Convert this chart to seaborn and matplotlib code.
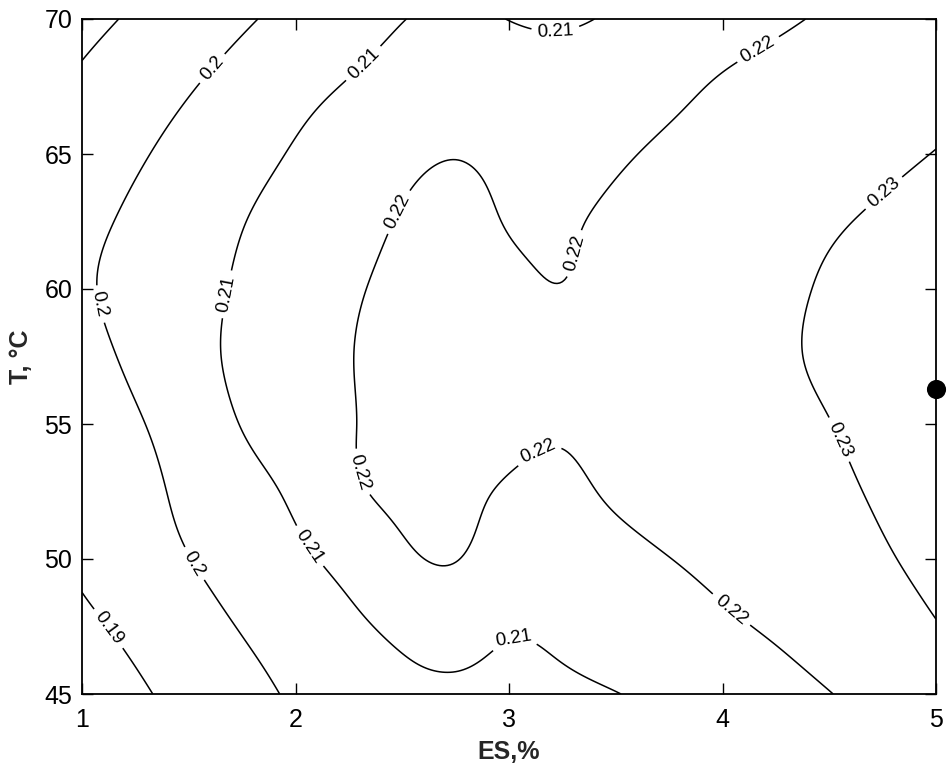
import numpy as np
import matplotlib
matplotlib.use("Agg")
import matplotlib.pyplot as plt
import seaborn as sns

# Grid of the response surface: ES (%) along x, T (degC) along y
es = [1.0, 1.25, 1.5, 1.75, 2.0, 2.25, 2.5, 2.75, 3.0, 3.25, 3.5, 3.75, 4.0, 4.25, 4.5, 4.75, 5.0]
temp = [45.0, 47.5, 50.0, 52.5, 55.0, 57.5, 60.0, 62.5, 65.0, 67.5, 70.0]

# Response values, one row per temperature
z_t45_0 = [0.1844, 0.1886, 0.1929, 0.1971, 0.2012, 0.2050, 0.2078, 0.2085, 0.2080, 0.2084, 0.2098, 0.2122, 0.2148, 0.2173, 0.2198, 0.2228, 0.2262]
z_t47_5 = [0.1880, 0.1922, 0.1963, 0.2005, 0.2043, 0.2082, 0.2120, 0.2137, 0.2108, 0.2122, 0.2147, 0.2166, 0.2188, 0.2210, 0.2236, 0.2266, 0.2297]
z_t50_0 = [0.1915, 0.1957, 0.1998, 0.2040, 0.2081, 0.2130, 0.2185, 0.2202, 0.2163, 0.2168, 0.2182, 0.2199, 0.2220, 0.2243, 0.2266, 0.2293, 0.2318]
z_t52_5 = [0.1925, 0.1968, 0.2023, 0.2069, 0.2117, 0.2185, 0.2213, 0.2214, 0.2194, 0.2191, 0.2207, 0.2228, 0.2248, 0.2267, 0.2287, 0.2308, 0.2330]
z_t55_0 = [0.1945, 0.1990, 0.2048, 0.2103, 0.2150, 0.2195, 0.2220, 0.2230, 0.2214, 0.2205, 0.2220, 0.2242, 0.2262, 0.2282, 0.2299, 0.2317, 0.2338]
z_t57_5 = [0.1968, 0.2018, 0.2071, 0.2117, 0.2157, 0.2197, 0.2222, 0.2233, 0.2220, 0.2213, 0.2227, 0.2248, 0.2270, 0.2291, 0.2308, 0.2324, 0.2341]
z_t60_0 = [0.1988, 0.2030, 0.2070, 0.2111, 0.2150, 0.2189, 0.2218, 0.2228, 0.2212, 0.2201, 0.2218, 0.2240, 0.2263, 0.2286, 0.2306, 0.2322, 0.2339]
z_t62_5 = [0.1976, 0.2016, 0.2056, 0.2097, 0.2134, 0.2171, 0.2205, 0.2218, 0.2197, 0.2194, 0.2211, 0.2231, 0.2251, 0.2272, 0.2292, 0.2310, 0.2328]
z_t65_0 = [0.1948, 0.1989, 0.2029, 0.2069, 0.2108, 0.2150, 0.2180, 0.2197, 0.2180, 0.2172, 0.2190, 0.2213, 0.2230, 0.2247, 0.2265, 0.2284, 0.2302]
z_t67_5 = [0.1915, 0.1955, 0.1994, 0.2033, 0.2071, 0.2106, 0.2135, 0.2148, 0.2140, 0.2136, 0.2152, 0.2180, 0.2208, 0.2228, 0.2246, 0.2262, 0.2278]
z_t70_0 = [0.1874, 0.1912, 0.1951, 0.1989, 0.2026, 0.2063, 0.2098, 0.2111, 0.2099, 0.2092, 0.2109, 0.2135, 0.2160, 0.2186, 0.2211, 0.2236, 0.2260]

levels = [0.19, 0.20, 0.21, 0.22, 0.23]

# Optimum point marked on the right edge
opt_es = [5.0]
opt_t = [56.3]

# Where the isoline values are written
label_pos = [
    (1.12, 47.4),
    (1.62, 68.1), (1.06, 59.4), (1.52, 49.8),
    (2.30, 68.5), (1.68, 59.8), (2.07, 50.5), (3.03, 46.8), (3.22, 69.2),
    (4.18, 68.7), (3.26, 61.4), (2.47, 62.9), (2.35, 53.3), (3.12, 54.2), (4.06, 48.3),
    (4.74, 63.7), (4.54, 54.4),
]


def natural_spline(xk, yk, xq):
    """Natural cubic spline through (xk, yk), evaluated at xq."""
    xk = np.asarray(xk, float)
    yk = np.asarray(yk, float)
    n = len(xk)
    h = np.diff(xk)
    A = np.zeros((n, n))
    r = np.zeros(n)
    A[0, 0] = A[-1, -1] = 1.0
    for i in range(1, n - 1):
        A[i, i - 1] = h[i - 1]
        A[i, i] = 2.0 * (h[i - 1] + h[i])
        A[i, i + 1] = h[i]
        r[i] = 3.0 * ((yk[i + 1] - yk[i]) / h[i] - (yk[i] - yk[i - 1]) / h[i - 1])
    c = np.linalg.solve(A, r)
    b = (yk[1:] - yk[:-1]) / h - h * (2.0 * c[:-1] + c[1:]) / 3.0
    d = (c[1:] - c[:-1]) / (3.0 * h)
    idx = np.clip(np.searchsorted(xk, xq) - 1, 0, n - 2)
    dx = xq - xk[idx]
    return yk[idx] + b[idx] * dx + c[idx] * dx ** 2 + d[idx] * dx ** 3


z = np.array([z_t45_0, z_t47_5, z_t50_0, z_t52_5, z_t55_0, z_t57_5,
              z_t60_0, z_t62_5, z_t65_0, z_t67_5, z_t70_0])

xf = np.linspace(es[0], es[-1], 321)
yf = np.linspace(temp[0], temp[-1], 301)
zx = np.array([natural_spline(es, row, xf) for row in z])
zf = np.array([natural_spline(temp, zx[:, j], yf) for j in range(len(xf))]).T
XF, YF = np.meshgrid(xf, yf)

sns.set_style("ticks")
plt.rcParams["font.family"] = ["Liberation Sans", "DejaVu Sans"]

fig = plt.figure(figsize=(9.47, 7.70), dpi=100)
ax = fig.add_axes([82 / 947, 1 - 694 / 770, (936 - 82) / 947, (694 - 19) / 770])

cs = ax.contour(XF, YF, zf, levels=levels, colors="black", linewidths=1.1)
ax.clabel(cs, fmt=lambda v: f"{v:g}", fontsize=13.5, inline=True,
          inline_spacing=6, manual=label_pos)

sns.scatterplot(x=opt_es, y=opt_t, color="black", s=190, edgecolor="black",
                linewidth=0, clip_on=False, zorder=6, legend=False, ax=ax)

ax.set_xlim(1, 5)
ax.set_ylim(45, 70)
ax.set_xticks([1, 2, 3, 4, 5])
ax.set_yticks([45, 50, 55, 60, 65, 70])
ax.tick_params(direction="in", top=True, right=True, length=8, width=1.0,
               labelsize=18, colors="black")
ax.tick_params(axis="x", pad=10)
ax.tick_params(axis="y", pad=7)
for sp in ax.spines.values():
    sp.set_linewidth(1.3)
    sp.set_color("black")

ax.set_xlabel("ES,%", fontsize=18, fontweight="bold", labelpad=6)
ax.set_ylabel("T, °C", fontsize=18, fontweight="bold", labelpad=8)

fig.savefig("out.png", dpi=100, facecolor="white")
